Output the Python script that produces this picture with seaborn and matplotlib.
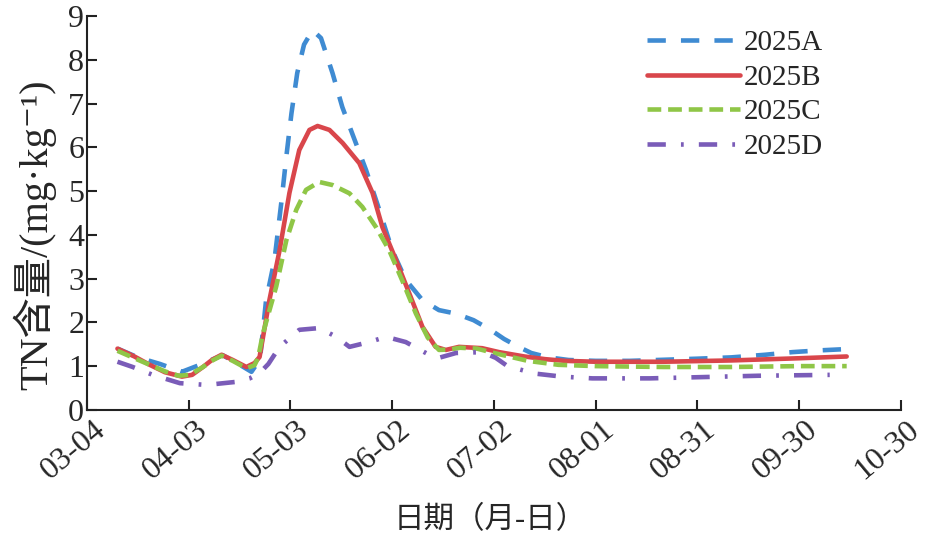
import matplotlib
matplotlib.use("Agg")
import matplotlib.pyplot as plt
import matplotlib.transforms as mtransforms
import seaborn as sns
import pandas as pd

# ---- data (day offsets from 2025-03-04) ----
days_A = [9, 15, 21.5, 28, 34, 40, 44, 48.5, 51, 52.8, 55.3, 57.4, 58.8, 60.3, 62, 64, 66.5, 69, 72.4, 75.3, 78.3, 82.3, 86.2, 90, 94, 98.9, 103.8, 108.8, 114, 119, 123, 127, 131, 136, 142, 150, 160, 168, 180, 190, 200, 208, 216, 224]
vals_A = [1.40, 1.20, 1.05, 0.87, 1.05, 1.25, 1.08, 0.87, 1.15, 2.50, 3.43, 4.80, 5.80, 6.78, 7.70, 8.35, 8.68, 8.50, 7.70, 6.92, 6.30, 5.48, 4.57, 3.65, 2.97, 2.51, 2.28, 2.20, 2.05, 1.83, 1.62, 1.45, 1.30, 1.20, 1.14, 1.12, 1.12, 1.14, 1.17, 1.20, 1.26, 1.32, 1.36, 1.39]

days_B = [9, 14, 18.5, 23, 28, 31, 34.2, 37, 39.7, 43, 47, 49.4, 50.9, 53.8, 56.8, 59.7, 62.6, 65.6, 68, 71.5, 75.4, 80.3, 84.2, 87.1, 91.1, 95, 98.9, 102.8, 105.8, 109.7, 116.5, 121.5, 129, 135, 141, 150, 170, 190, 210, 224]
vals_B = [1.40, 1.22, 1.03, 0.86, 0.76, 0.80, 0.98, 1.15, 1.26, 1.14, 0.98, 1.07, 1.21, 2.51, 3.65, 4.96, 5.94, 6.40, 6.49, 6.40, 6.10, 5.64, 4.96, 4.18, 3.43, 2.67, 1.90, 1.44, 1.37, 1.44, 1.41, 1.32, 1.22, 1.16, 1.12, 1.10, 1.10, 1.13, 1.18, 1.22]

days_C = [9, 14, 18.5, 23, 27, 30.3, 34.2, 37, 39.7, 43, 47, 49.4, 50.5, 51.9, 55.8, 58.8, 61.7, 64.6, 68.5, 72.4, 77.4, 81.2, 85.2, 89.1, 93, 97, 100.5, 103.8, 107, 110, 115, 120, 130, 139, 150, 170, 190, 210, 224]
vals_C = [1.35, 1.18, 1.03, 0.88, 0.78, 0.80, 0.98, 1.13, 1.24, 1.12, 0.95, 1.02, 1.20, 1.75, 2.82, 3.88, 4.57, 5.03, 5.21, 5.14, 4.95, 4.64, 4.18, 3.65, 2.95, 2.20, 1.65, 1.37, 1.38, 1.42, 1.40, 1.30, 1.12, 1.03, 1.00, 0.98, 0.98, 1.00, 1.00]

days_D = [9, 13.5, 19.4, 27.4, 35.3, 44, 48, 50.9, 53.5, 56.8, 62.6, 68.5, 73.5, 77.4, 83.2, 88.2, 94, 98, 100.9, 103.8, 108.8, 116.5, 120.5, 124, 132, 140, 149, 166, 182, 198, 219]
vals_D = [1.10, 0.98, 0.80, 0.61, 0.57, 0.64, 0.72, 0.84, 1.05, 1.44, 1.83, 1.87, 1.67, 1.44, 1.55, 1.67, 1.55, 1.38, 1.26, 1.19, 1.30, 1.32, 1.19, 1.00, 0.83, 0.76, 0.72, 0.72, 0.75, 0.78, 0.80]

series_names = ["2025A", "2025B", "2025C", "2025D"]
tick_labels = ["03-04", "04-03", "05-03", "06-02", "07-02", "08-01", "08-31", "09-30", "10-30"]

start = pd.Timestamp("2025-03-04")
frames = []
for name, d, v in zip(series_names, [days_A, days_B, days_C, days_D], [vals_A, vals_B, vals_C, vals_D]):
    frames.append(pd.DataFrame({"date": start + pd.to_timedelta(d, unit="D"), "TN": v, "series": name}))
df = pd.concat(frames, ignore_index=True)

sns.set_style("ticks")
plt.rcParams["font.family"] = ["Liberation Serif", "Noto Sans CJK SC", "DejaVu Serif"]

fig = plt.figure(figsize=(9.25, 5.4), dpi=100)
ax = fig.add_axes([0.094, 0.241, 0.880, 0.729])

palette = {"2025A": "#3f8bd2", "2025B": "#d9464b", "2025C": "#8fc647", "2025D": "#7a5cb8"}
styles = {
    "2025A": (0, (4.0, 3.3)),
    "2025B": "-",
    "2025C": (0, (3.0, 1.5)),
    "2025D": (0, (4.0, 3.3, 0.6, 3.3)),
}
for name in series_names:
    sub = df[df["series"] == name]
    sns.lineplot(data=sub, x="date", y="TN", ax=ax, color=palette[name], lw=3.3,
                 linestyle=styles[name], label=name, sort=True)

ax.set_xlim(start, start + pd.Timedelta(days=240))
ax.set_ylim(0, 9)
ticks = [start + pd.Timedelta(days=30 * i) for i in range(len(tick_labels))]
ax.set_xticks(ticks)
ax.set_yticks(range(0, 10))
ax.tick_params(axis="y", labelsize=23, pad=2)
ax.tick_params(direction="in", length=7, width=1.5, color="#222222")
ax.set_xticklabels(tick_labels, rotation=40, ha="right", va="center", rotation_mode="anchor", fontsize=23)
offset = mtransforms.ScaledTranslation(0.15, -0.12, fig.dpi_scale_trans)
for lab in ax.get_xticklabels():
    lab.set_transform(lab.get_transform() + offset)
for s in ["top", "right"]:
    ax.spines[s].set_visible(False)
for s in ["left", "bottom"]:
    ax.spines[s].set_linewidth(1.5)
    ax.spines[s].set_color("#222222")

ax.set_xlabel("日期（月-日）", fontsize=22)
ax.xaxis.set_label_coords(0.495, -0.245)
ax.set_ylabel("TN含量/(mg·kg⁻¹)", fontsize=29)
ax.yaxis.set_label_coords(-0.038, 0.445)

leg = ax.legend(loc="upper right", bbox_to_anchor=(0.918, 0.995), frameon=False, fontsize=21,
                handlelength=3.2, handletextpad=0.1, labelspacing=0.28, borderaxespad=0)

fig.savefig("out.png", dpi=100)
